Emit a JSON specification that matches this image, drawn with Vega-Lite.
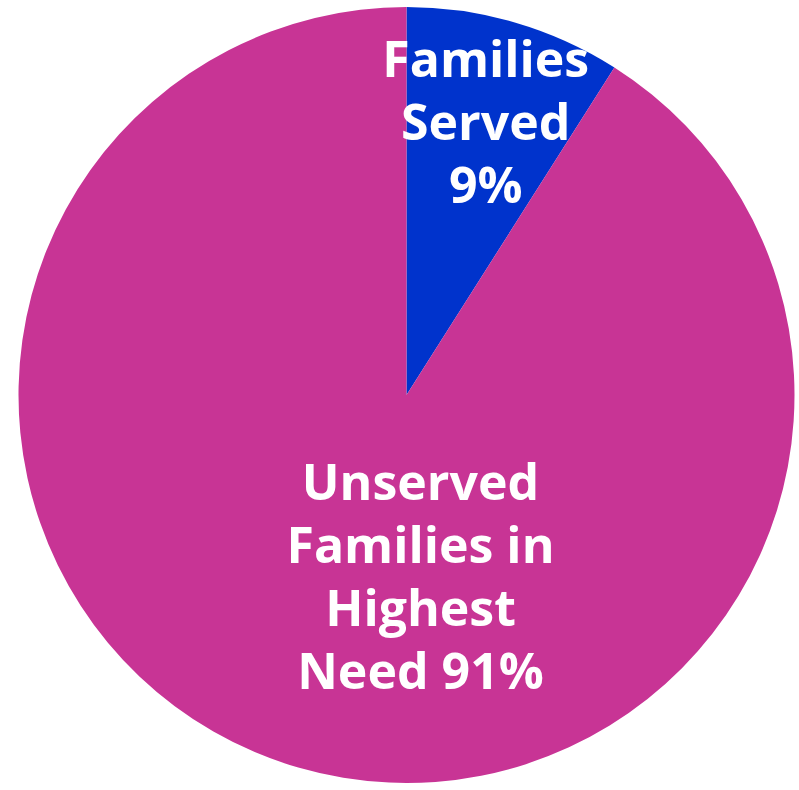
{
  "$schema": "https://vega.github.io/schema/vega-lite/v6.json",
  "autosize": {"type": "fit", "contains": "padding"},
  "width": 799,
  "height": 790,
  "padding": {"left": 14, "right": 0, "top": 0, "bottom": 0},
  "background": "white",
  "config": {"view": {"stroke": null}},
  "data": {
    "values": [
      {"category": "Families Served", "value": 9, "label": "Families\nServed\n9%"},
      {"category": "Unserved Families in Highest Need", "value": 91, "label": "Unserved\nFamilies in\nHighest\nNeed 91%"}
    ]
  },
  "encoding": {
    "theta": {"field": "value", "type": "quantitative", "stack": true},
    "order": {"field": "category", "type": "nominal", "sort": "ascending"}
  },
  "layer": [
    {
      "mark": {"type": "arc", "outerRadius": 388},
      "encoding": {
        "color": {
          "field": "category",
          "type": "nominal",
          "scale": {"domain": ["Families Served", "Unserved Families in Highest Need"], "range": ["#0033CC", "#C83495"]},
          "legend": null
        }
      }
    },
    {
      "mark": {"type": "text", "radius": 284, "dy": -60, "font": "Open Sans", "fontWeight": "bold", "fontSize": 50, "lineHeight": 63, "lineBreak": "\n", "fill": "white", "align": "center", "baseline": "middle"},
      "encoding": {
        "detail": {"field": "category", "type": "nominal"},
        "text": {"condition": {"test": "datum.category === 'Families Served'", "field": "label"}, "value": ""}
      }
    },
    {
      "mark": {"type": "text", "radius": 190, "dx": 67, "dy": -92, "font": "Open Sans", "fontWeight": "bold", "fontSize": 50, "lineHeight": 63, "lineBreak": "\n", "fill": "white", "align": "center", "baseline": "middle"},
      "encoding": {
        "detail": {"field": "category", "type": "nominal"},
        "text": {"condition": {"test": "datum.category !== 'Families Served'", "field": "label"}, "value": ""}
      }
    }
  ]
}
